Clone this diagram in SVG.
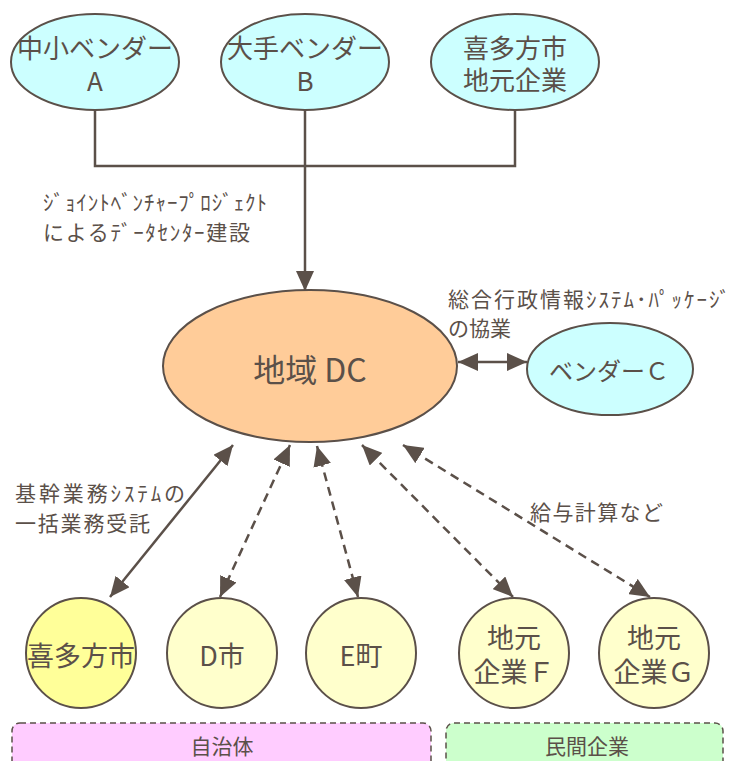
<svg xmlns="http://www.w3.org/2000/svg" width="733" height="761" viewBox="0 0 733 761">
<style>
  .t { font-family: "Noto Sans CJK JP", "Noto Sans", sans-serif; fill: #5b5049; }
  .nt { font-size: 26px; text-anchor: middle; }
  .bt { font-size: 27px; text-anchor: middle; }
  .lb { font-size: 21px; }
  .node { stroke: #5b5049; stroke-width: 2; }
  .cn { fill: none; stroke: #5b5049; stroke-width: 2.5; }
  .dash { stroke-dasharray: 9 6; }
  .grp { stroke: #5b5049; stroke-width: 1.5; stroke-dasharray: 6 4; }
</style>
<defs>
  <marker id="ah" markerUnits="userSpaceOnUse" markerWidth="20" markerHeight="18" refX="20" refY="9" orient="auto-start-reverse" viewBox="0 0 20 18">
    <path d="M0,0 L20,9 L0,18 z" fill="#5b5049" stroke="none"/>
  </marker>
</defs>
<rect width="733" height="761" fill="#ffffff"/>

<g id="group-jichitai">
  <rect class="grp" x="12" y="723" width="419" height="60" rx="8" fill="#ffccff"/>
  <text class="t" x="222" y="754" font-size="21" text-anchor="middle">自治体</text>
</g>
<g id="group-minkan">
  <rect class="grp" x="446" y="723" width="277" height="60" rx="8" fill="#ccffcc"/>
  <text class="t" x="587" y="754" font-size="21" text-anchor="middle">民間企業</text>
</g>

<g id="connectors">
  <polyline class="cn" points="95,110 95,166 515,166 515,110"/>
  <line class="cn" x1="305" y1="110" x2="305" y2="291" marker-end="url(#ah)"/>
  <line class="cn" x1="458" y1="362" x2="527" y2="362" marker-start="url(#ah)" marker-end="url(#ah)"/>
  <line class="cn" x1="110" y1="597" x2="233" y2="445" marker-start="url(#ah)" marker-end="url(#ah)"/>
  <line class="cn dash" x1="220" y1="597" x2="290" y2="445" marker-start="url(#ah)" marker-end="url(#ah)"/>
  <line class="cn dash" x1="358" y1="597" x2="317" y2="446" marker-start="url(#ah)" marker-end="url(#ah)"/>
  <line class="cn dash" x1="513" y1="597" x2="362" y2="445" marker-start="url(#ah)" marker-end="url(#ah)"/>
  <line class="cn dash" x1="650" y1="597" x2="403" y2="445" marker-start="url(#ah)" marker-end="url(#ah)"/>
</g>

<g id="labels">
  <text class="t lb" x="43" y="210" textLength="224" lengthAdjust="spacing">ｼﾞｮｲﾝﾄﾍﾞﾝﾁｬｰﾌﾟﾛｼﾞｪｸﾄ</text>
  <text class="t lb" x="43" y="240" textLength="207" lengthAdjust="spacing">によるﾃﾞｰﾀｾﾝﾀｰ建設</text>
  <text class="t lb" x="448" y="307" textLength="282" lengthAdjust="spacing">総合行政情報ｼｽﾃﾑ･ﾊﾟｯｹｰｼﾞ</text>
  <text class="t lb" x="448" y="336">の協業</text>
  <text class="t lb" x="15" y="501" textLength="170" lengthAdjust="spacing">基幹業務ｼｽﾃﾑの</text>
  <text class="t lb" x="15" y="531" textLength="135" lengthAdjust="spacing">一括業務受託</text>
  <text class="t lb" x="530" y="520" textLength="133" lengthAdjust="spacing">給与計算など</text>
</g>

<g id="node-vendor-a">
  <ellipse class="node" cx="95" cy="62" rx="84" ry="48" fill="#ccffff"/>
  <text class="t nt" x="95" y="58">中小ベンダー</text>
  <text class="t nt" x="95" y="91">A</text>
</g>
<g id="node-vendor-b">
  <ellipse class="node" cx="305" cy="62" rx="84" ry="48" fill="#ccffff"/>
  <text class="t nt" x="305" y="58">大手ベンダー</text>
  <text class="t nt" x="305" y="91">B</text>
</g>
<g id="node-kitakata-local">
  <ellipse class="node" cx="515" cy="62" rx="84" ry="48" fill="#ccffff"/>
  <text class="t nt" x="515" y="58">喜多方市</text>
  <text class="t nt" x="515" y="90">地元企業</text>
</g>
<g id="node-dc">
  <ellipse class="node" cx="310" cy="366" rx="147" ry="76" fill="#ffcc99"/>
  <text class="t" x="310" y="382" font-size="32" text-anchor="middle">地域 DC</text>
</g>
<g id="node-vendor-c">
  <ellipse class="node" cx="610" cy="369" rx="83" ry="46" fill="#ccffff"/>
  <text class="t" x="609" y="380" font-size="24" text-anchor="middle">ベンダーＣ</text>
</g>
<g id="node-kitakata">
  <ellipse class="node" cx="81" cy="653" rx="55" ry="55" fill="#ffff99"/>
  <text class="t bt" x="81" y="666">喜多方市</text>
</g>
<g id="node-d">
  <ellipse class="node" cx="222" cy="653" rx="55" ry="55" fill="#ffffcc"/>
  <text class="t bt" x="222" y="666">D市</text>
</g>
<g id="node-e">
  <ellipse class="node" cx="361" cy="653" rx="55" ry="55" fill="#ffffcc"/>
  <text class="t bt" x="361" y="666">E町</text>
</g>
<g id="node-f">
  <ellipse class="node" cx="514" cy="653" rx="55" ry="55" fill="#ffffcc"/>
  <text class="t bt" x="514" y="648">地元</text>
  <text class="t bt" x="514" y="682">企業Ｆ</text>
</g>
<g id="node-g">
  <ellipse class="node" cx="654" cy="653" rx="55" ry="55" fill="#ffffcc"/>
  <text class="t bt" x="654" y="648">地元</text>
  <text class="t bt" x="654" y="682">企業Ｇ</text>
</g>
</svg>
